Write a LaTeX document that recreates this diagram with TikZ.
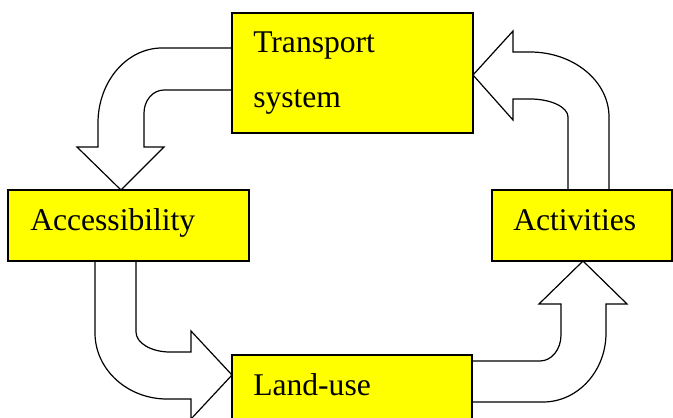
\documentclass[tikz,border=0pt]{standalone}
\usepackage{fontspec}
\setmainfont{Liberation Serif}
\usetikzlibrary{backgrounds}
\definecolor{boxYellow}{RGB}{255,255,0}
\newcommand{\boxText}[3]{%
  \node[labelStyle] (#1) at (#2) {#3};
}

\begin{document}
\begin{tikzpicture}[%
  x=0.75pt,y=-0.75pt,%
  boxStyle/.style 2 args={draw,line width=1.5pt,fill=boxYellow,inner sep=0pt,outer sep=0pt,anchor=north west,minimum width=#1*0.75pt,minimum height=#2*0.75pt},%
  labelStyle/.style={inner sep=0pt,anchor=base west,align=left,font=\fontsize{23.7pt}{41.25pt}\selectfont},%
  arrowStyle/.style={draw,fill=white,line width=0.9pt,line join=miter}%
]
%
\useasboundingbox (0,0) rectangle (673,417);
\clip (0,0) rectangle (673,417);
%
% The four boxes.
\node[boxStyle={241}{120}] (transport) at (232,13) {};
\node[boxStyle={241}{71}] (access) at (8,190) {};
\node[boxStyle={180}{71}] (activities) at (492,190) {};
\node[boxStyle={240}{85}] (landUse) at (232,355) {};
%
% The base anchor of a two-line label lies on its last line.
\boxText{transportText}{253,108}{Transport\\system}
\boxText{accessText}{30,230}{Accessibility}
\boxText{activitiesText}{513,230}{Activities}
\boxText{landUseText}{253,395}{Land-use}
%
% The block arrows, drawn behind the boxes.
\begin{scope}[on background layer]
% Transport system to accessibility.
\draw[arrowStyle] (transport.west |- 0,48) -- (162,48)
  .. controls (126.7,48) and (98,81.6) .. (98,123) -- (98,147) -- (77,147)
  -- (access.north -| 121,0) -- (164,147) -- (144,147) -- (144,113)
  .. controls (144,100.3) and (153,90) .. (164,90) -- (transport.west |- 0,90) -- cycle;
% Activities to transport system.
\draw[arrowStyle] (activities.north -| 609,0) -- (609,117)
  .. controls (609,81.1) and (573.6,52) .. (530,52) -- (513,52) -- (513,31)
  -- (transport.east |- 0,75) -- (513,120) -- (513,99) -- (530,99)
  .. controls (551,99) and (568,107.1) .. (568,117) -- (activities.north -| 568,0) -- cycle;
% Accessibility to land-use.
\draw[arrowStyle] (access.south -| 136,0) -- (136,332)
  .. controls (136,343) and (151.2,352) .. (170,352) -- (191,352) -- (191,331)
  -- (landUse.west |- 0,375) -- (191,419) -- (191,399) -- (167,399)
  .. controls (127.3,399) and (95,369.4) .. (95,333) -- (access.south -| 95,0) -- cycle;
% Land-use to activities.
\draw[arrowStyle] (landUse.east |- 0,361) -- (540,361)
  .. controls (551.6,361) and (561,349.4) .. (561,335) -- (561,304) -- (539,304)
  -- (activities.south -| 583,0) -- (627,304) -- (606,304) -- (606,333)
  .. controls (606,371.1) and (577.8,402) .. (543,402) -- (landUse.east |- 0,402) -- cycle;
\end{scope}
\end{tikzpicture}
\end{document}
